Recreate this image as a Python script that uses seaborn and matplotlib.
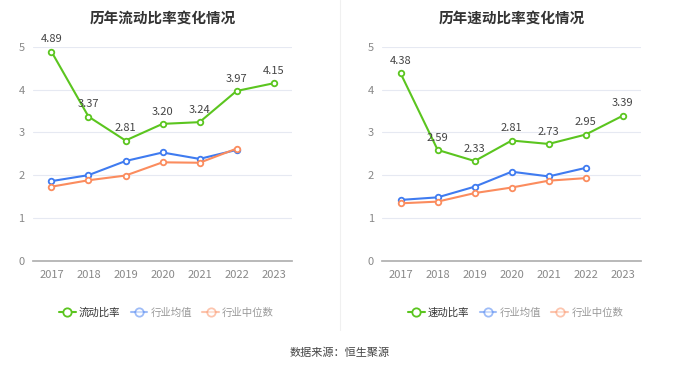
import pandas as pd
import matplotlib
matplotlib.use('Agg')
import matplotlib.pyplot as plt
import seaborn as sns
from matplotlib.lines import Line2D

years = ['2017', '2018', '2019', '2020', '2021', '2022', '2023']
current_ratio = [4.89, 3.37, 2.81, 3.20, 3.24, 3.97, 4.15]
current_mean = [1.86, 2.00, 2.33, 2.53, 2.38, 2.59]
current_median = [1.73, 1.88, 1.99, 2.30, 2.29, 2.62]
quick_ratio = [4.38, 2.59, 2.33, 2.81, 2.73, 2.95, 3.39]
quick_mean = [1.42, 1.48, 1.73, 2.08, 1.97, 2.17]
quick_median = [1.34, 1.38, 1.58, 1.71, 1.87, 1.93]

GREEN = '#5bc51f'
BLUE = '#3f7bf0'
ORANGE = '#fb8c5e'

sns.set_theme(style='white')
plt.rcParams['font.family'] = ['Noto Sans CJK SC', 'DejaVu Sans']

fig = plt.figure(figsize=(6.8, 3.67), dpi=100)
ax1 = fig.add_axes([0.0485, 0.29, 0.381, 0.582])
ax2 = fig.add_axes([0.562, 0.29, 0.381, 0.582])


def draw(ax, title, main, mean, median, main_name):
    x = list(range(len(years)))
    for vals, col in [(mean, BLUE), (median, ORANGE), (main, GREEN)]:
        df = pd.DataFrame({'x': x[:len(vals)], 'y': vals})
        sns.lineplot(data=df, x='x', y='y', ax=ax, color=col, lw=1.5,
                     marker='o', markersize=4, markerfacecolor='white',
                     markeredgecolor=col, markeredgewidth=1.3)
    for i, v in enumerate(main):
        ax.text(i, v + 0.17, f'{v:.2f}', ha='center', va='bottom',
                fontsize=8, color='#444444')
    ax.set_xlim(-0.5, len(years) - 0.5)
    ax.set_ylim(0, 5)
    ax.set_yticks([0, 1, 2, 3, 4, 5])
    ax.set_xticks(x)
    ax.set_xticklabels(years)
    ax.set_xlabel('')
    ax.set_ylabel('')
    ax.grid(axis='y', color='#e6e9f2', lw=0.8)
    ax.set_axisbelow(True)
    for s in ['top', 'right', 'left']:
        ax.spines[s].set_visible(False)
    ax.spines['bottom'].set_color('#b0b0b0')
    ax.tick_params(axis='both', labelsize=8, colors='#888888', length=0, pad=6)
    ax.tick_params(axis='x', length=4, color='#b0b0b0', pad=3)
    ax.text(0.5, 1.1, title, transform=ax.transAxes, ha='center', va='bottom',
            fontsize=10.5, fontweight='bold', color='#333333')
    handles = [
        Line2D([], [], color=GREEN, lw=1.5, marker='o', markersize=6,
               markerfacecolor='white', markeredgewidth=1.3),
        Line2D([], [], color=BLUE, lw=1.5, marker='o', markersize=6, alpha=0.5,
               markerfacecolor='white', markeredgewidth=1.3),
        Line2D([], [], color=ORANGE, lw=1.5, marker='o', markersize=6, alpha=0.5,
               markerfacecolor='white', markeredgewidth=1.3),
    ]
    leg = ax.legend(handles, [main_name, '行业均值', '行业中位数'],
                    loc='center', bbox_to_anchor=(0.515, -0.245), ncol=3,
                    frameon=False, fontsize=7.5, handlelength=1.6,
                    handletextpad=0.3, columnspacing=1.0)
    for t, c in zip(leg.get_texts(), ['#333333', '#999999', '#999999']):
        t.set_color(c)


draw(ax1, '历年流动比率变化情况', current_ratio, current_mean, current_median, '流动比率')
draw(ax2, '历年速动比率变化情况', quick_ratio, quick_mean, quick_median, '速动比率')

fig.add_artist(Line2D([0.5, 0.5], [0.1, 1.0], color='#f0f0f0', lw=0.8,
                      transform=fig.transFigure))
fig.text(0.5, 0.04, '数据来源：恒生聚源', ha='center', va='center',
         fontsize=8, color='#444444')

fig.savefig('out.png', dpi=100, facecolor='white')
